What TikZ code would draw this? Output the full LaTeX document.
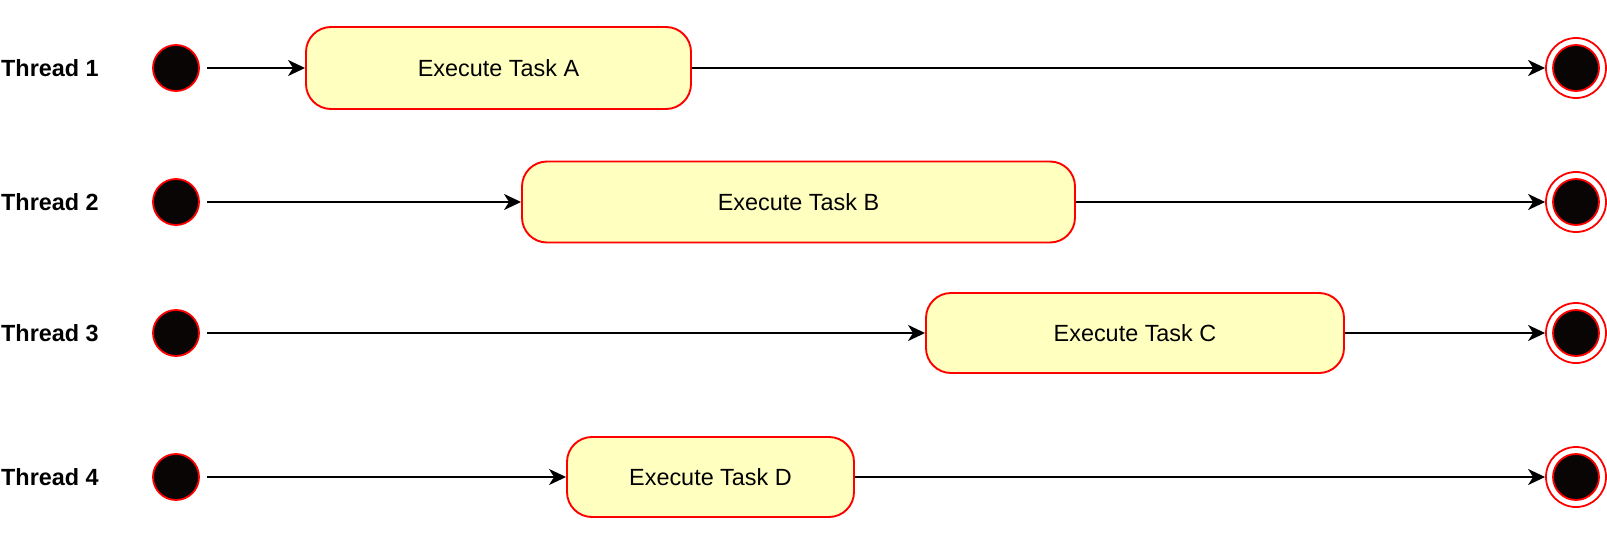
\documentclass[tikz,border=0pt]{standalone}
\usepackage{fontspec}
\setmainfont{Liberation Sans}
\usetikzlibrary{arrows.meta}
\definecolor{boxfill}{HTML}{FFFFC0}
\definecolor{dotfill}{HTML}{0A0505}
\tikzset{
  lbl/.style={anchor=west, inner sep=0pt, font=\fontsize{23.4}{28}\selectfont\bfseries},
  startdot/.style={circle, draw=red, line width=1.8pt, fill=dotfill, minimum size=46pt, inner sep=0pt},
  endring/.style={circle, draw=red, line width=1.8pt, fill=white, minimum size=60pt, inner sep=0pt},
  enddot/.style={circle, draw=red, line width=1.8pt, fill=dotfill, minimum size=46pt, inner sep=0pt},
  taskbox/.style={draw=red, line width=1.9pt, fill=boxfill, rounded corners=25pt, inner sep=0pt,
    font=\fontsize{23.4}{28}\selectfont},
  flow/.style={line width=2pt, -{Stealth[length=17pt, width=16pt, inset=5pt]}},
}
\begin{document}
\begin{tikzpicture}[x=1pt, y=-1pt]
\useasboundingbox (0,0) rectangle (1607,546);
% rows
\foreach \i/\y in {1/68, 2/202, 3/333, 4/477}{
  \node[lbl] (l\i) at (1,\y) {Thread \i};
  \node[startdot] (s\i) at (176,\y) {};
  \node[endring] (r\i) at (1576,\y) {};
  \node[enddot] (e\i) at (1576,\y) {};
}
\node[taskbox, minimum width=385pt, minimum height=82pt] (ta) at (498.5,68) {Execute Task A};
\node[taskbox, minimum width=553pt, minimum height=81pt] (tb) at (798.5,202) {Execute Task B};
\node[taskbox, minimum width=418pt, minimum height=80pt] (tc) at (1135,333) {Execute Task C};
\node[taskbox, minimum width=287pt, minimum height=80pt] (td) at (710.5,477) {Execute Task D};
% connectors
\draw[flow, shorten <=7pt] (s1) -- (ta);
\draw[flow] (ta) -- (r1);
\draw[flow, shorten <=7pt] (s2) -- (tb);
\draw[flow] (tb) -- (r2);
\draw[flow, shorten <=7pt] (s3) -- (tc);
\draw[flow] (tc) -- (r3);
\draw[flow, shorten <=7pt] (s4) -- (td);
\draw[flow] (td) -- (r4);
\end{tikzpicture}
\end{document}
